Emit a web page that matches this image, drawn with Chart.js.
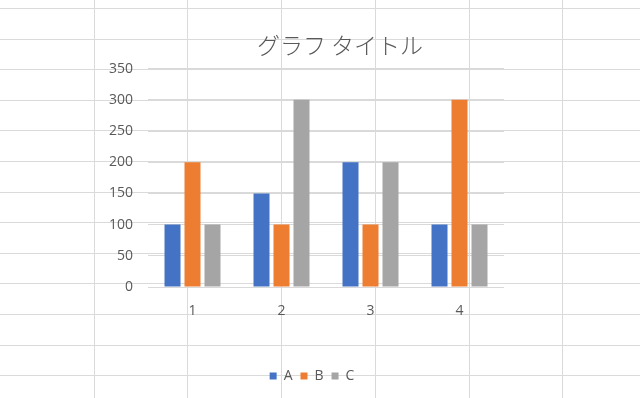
<!DOCTYPE html>
<html>
<head>
<meta charset="utf-8">
<script src="https://cdn.jsdelivr.net/npm/chart.js@4/dist/chart.umd.min.js"></script>
<style>
  html, body { margin: 0; padding: 0; background: #fff; }
  canvas { display: block; }
</style>
</head>
<body>
<canvas id="chart" width="640" height="398"></canvas>
<script>
const categories = ['1', '2', '3', '4'];
const seriesA = [100, 150, 200, 100];
const seriesB = [200, 100, 100, 300];
const seriesC = [100, 300, 200, 100];
const yTicks = [0, 50, 100, 150, 200, 250, 300, 350];

const textColor = '#595959';
const numFont = '"Open Sans", "Noto Sans", sans-serif';

// spreadsheet cells behind the (transparent) chart
const SheetGrid = {
    id: 'sheetGrid',
    beforeDraw(chart) {
        const { ctx, width, height } = chart;
        ctx.save();
        ctx.fillStyle = '#ffffff';
        ctx.fillRect(0, 0, width, height);
        ctx.strokeStyle = '#dadada';
        ctx.lineWidth = 1;
        ctx.beginPath();
        for (let x = 93.7; x < width; x += 93.7) {
            const px = Math.round(x) + 0.5;
            ctx.moveTo(px, 0);
            ctx.lineTo(px, height);
        }
        for (let y = 8; y < height; y += 30.6) {
            const py = Math.round(y) + 0.5;
            ctx.moveTo(0, py);
            ctx.lineTo(width, py);
        }
        ctx.stroke();
        ctx.restore();
    }
};

// legend sits a little left of the title in the original
const LegendShift = {
    id: 'legendShift',
    afterLayout(chart) {
        chart.legend.left -= 28;
        chart.legend.right -= 28;
    }
};

new Chart(document.getElementById('chart'), {
    type: 'bar',
    data: {
        labels: categories,
        datasets: [
            { label: 'A', data: seriesA, backgroundColor: '#4472C4' },
            { label: 'B', data: seriesB, backgroundColor: '#ED7D31' },
            { label: 'C', data: seriesC, backgroundColor: '#A5A5A5' }
        ]
    },
    options: {
        responsive: false,
        animation: false,
        devicePixelRatio: 1,
        categoryPercentage: 0.674,
        barPercentage: 0.8,
        layout: { padding: { left: 40, right: 0, top: 0, bottom: 5 } },
        plugins: {
            title: {
                display: true,
                text: 'グラフ タイトル',
                color: textColor,
                font: { family: '"Noto Sans CJK JP", sans-serif', size: 23, weight: 300 },
                padding: { top: 31, bottom: 10 }
            },
            legend: {
                position: 'bottom',
                labels: {
                    color: textColor,
                    font: { family: numFont, size: 14 },
                    boxWidth: 7,
                    boxHeight: 7,
                    padding: 8
                }
            },
            tooltip: { enabled: false }
        },
        scales: {
            x: {
                grid: { display: false },
                border: { display: false },
                ticks: {
                    color: textColor,
                    font: { family: numFont, size: 14 },
                    padding: 8
                },
                afterFit(scale) { scale.height = 74; }
            },
            y: {
                min: 0,
                max: 350,
                afterBuildTicks(scale) { scale.ticks = yTicks.map(v => ({ value: v })); },
                grid: { color: '#d9d9d9', drawTicks: false },
                border: { display: false },
                ticks: {
                    color: textColor,
                    font: { family: numFont, size: 14 },
                    padding: 15
                },
                afterFit(scale) { scale.width = 108; }
            },
            y2: {
                position: 'right',
                display: true,
                grid: { display: false },
                border: { display: false },
                ticks: { display: false },
                afterFit(scale) { scale.width = 136; }
            }
        }
    },
    plugins: [SheetGrid, LegendShift]
});
</script>
</body>
</html>
